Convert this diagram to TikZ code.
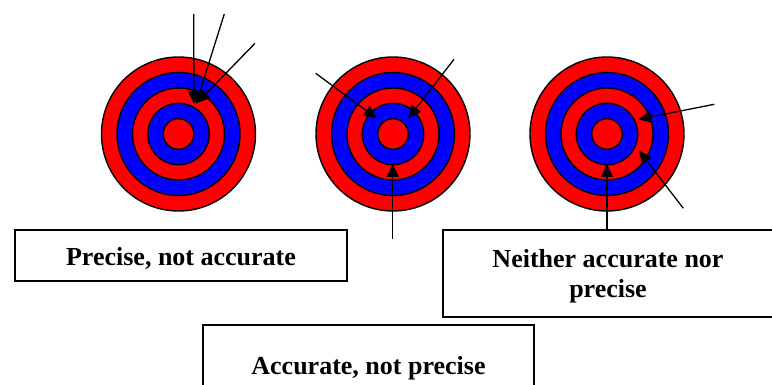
\documentclass[tikz,border=0pt]{standalone}
\usepackage{fontspec}
\setmainfont{Liberation Serif}
\usetikzlibrary{arrows.meta}
\newcommand{\lowstrut}{\rule{0pt}{24pt}}
\begin{document}
\begin{tikzpicture}[x=1pt,y=-1pt,
  ring/.style={circle,draw=black,line width=1.4pt,inner sep=0pt,minimum size=#1},
  redring/.style={ring=#1,fill=red},
  bluering/.style={ring=#1,fill=blue},
  labelbox/.style={draw=black,line width=1.4pt,rectangle,inner sep=0pt,fill=white,
    font=\bfseries\fontsize{26}{30}\selectfont,align=center},
  hit/.style={line width=1.3pt,-{Triangle[length=13pt,width=12pt]}}]
\useasboundingbox (0,0) rectangle (772,385);
% targets
\foreach \cx/\n in {178.5/A,393/B,607/C}{
  \node[redring=154pt]  (t\n5) at (\cx,134) {};
  \node[bluering=123pt] (t\n4) at (\cx,134) {};
  \node[redring=92pt]   (t\n3) at (\cx,134) {};
  \node[bluering=61.4pt](t\n2) at (\cx,134) {};
  \node[redring=30.6pt] (t\n1) at (\cx,134) {};
}
% label boxes
\node[labelbox,minimum width=332pt,minimum height=51pt] (b1) at (181,255.5) {\lowstrut Precise, not accurate};
\node[labelbox,minimum width=330pt,minimum height=87pt] (b2) at (608,273.5) {\lowstrut Neither accurate nor\\precise};
\node[labelbox,minimum width=331pt,minimum height=80pt] (b3) at (368.5,365) {\lowstrut Accurate, not precise};
% arrow end points
\coordinate (a1s) at (193.7,14);  \coordinate (a1e) at (194,104);
\coordinate (a2s) at (224.3,14);  \coordinate (a2e) at (196,104);
\coordinate (a3s) at (255,43.3);  \coordinate (a3e) at (197,103);
\coordinate (b1s) at (315.7,73.3); \coordinate (b1e) at (376.7,118.3);
\coordinate (b2s) at (454,59.3);   \coordinate (b2e) at (408.3,118.3);
\coordinate (b3s) at (392.7,239);  \coordinate (b3e) at (392.7,164);
\coordinate (c1s) at (714.3,104.3); \coordinate (c1e) at (638.3,119.3);
\coordinate (c2s) at (683.3,208.3); \coordinate (c2e) at (639,150.7);
\coordinate (c3e) at (607,164);
% arrows
\draw[hit] (a1s) -- (a1e);
\draw[hit] (a2s) -- (a2e);
\draw[hit] (a3s) -- (a3e);
\draw[hit] (b1s) -- (b1e);
\draw[hit] (b2s) -- (b2e);
\draw[hit] (b3s) -- (b3e);
\draw[hit] (c1s) -- (c1e);
\draw[hit] (c2s) -- (c2e);
\draw[hit] (b2.north -| c3e) -- (c3e);
\end{tikzpicture}
\end{document}
